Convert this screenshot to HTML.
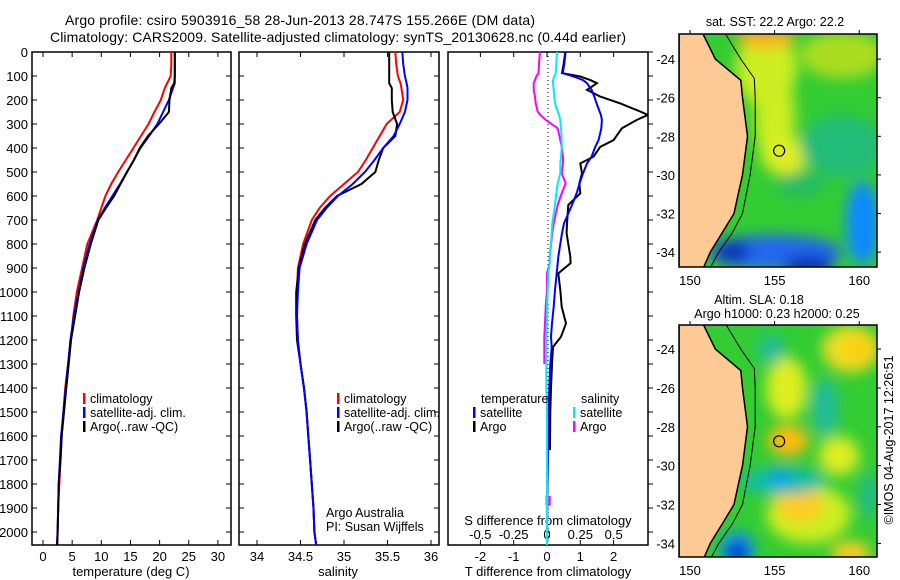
<!DOCTYPE html>
<html><head><meta charset="utf-8">
<style>
html,body{margin:0;padding:0;background:#fff;}
svg{display:block;font-family:"Liberation Sans",sans-serif;}
</style></head>
<body>
<svg id="fig" width="900" height="580" viewBox="0 0 900 580" xmlns="http://www.w3.org/2000/svg">
<defs>
<filter id="blur" x="-50%" y="-50%" width="200%" height="200%"><feGaussianBlur stdDeviation="7"/></filter>
<clipPath id="clipTop"><rect x="679" y="34" width="198" height="233"/></clipPath>
<clipPath id="clipBot"><rect x="679" y="325" width="198" height="232"/></clipPath>
<clipPath id="clipP3"><rect x="448" y="52" width="200" height="493"/></clipPath>
</defs>
<text x="65" y="25" font-size="14" textLength="470">Argo profile: csiro 5903916_58 28-Jun-2013 28.747S 155.266E (DM data)</text>
<text x="50" y="42" font-size="14" textLength="576">Climatology: CARS2009. Satellite-adjusted climatology: synTS_20130628.nc (0.44d earlier)</text>
<g id="root"></g>
</svg>
<script>
// ---- profile data ----
const depths = [0,50,100,130,150,200,250,300,350,400,450,500,550,600,650,700,800,900,1000,1100,1200,1300,1400,1500,1600,1700,1800,1900,2000,2054];
const tempClim = [22.0,22.0,21.9,21.3,20.9,20.2,19.1,18.1,16.8,15.5,14.2,12.9,11.7,10.7,10.0,9.3,7.6,6.7,5.8,5.2,4.8,4.3,3.8,3.5,3.2,3.0,2.8,2.6,2.5,2.4];
const tempSat = [22.6,22.6,22.6,22.6,22.3,21.6,20.6,19.6,18.2,16.7,15.6,14.4,13.2,11.9,10.6,9.4,8.0,6.9,6.1,5.3,4.7,4.3,3.9,3.5,3.1,2.9,2.7,2.6,2.5,2.4];
const tempArgo = [22.6,22.6,22.6,22.5,22.0,21.7,21.6,19.9,18.0,16.6,15.6,14.4,13.3,12.2,10.8,9.5,8.2,7.1,6.2,5.5,4.8,4.4,4.0,3.6,3.2,3.0,2.7,2.6,2.5,2.45];
const salClim = [35.59,35.60,35.62,35.65,35.66,35.68,35.64,35.49,35.41,35.33,35.25,35.16,35.00,34.84,34.72,34.63,34.53,34.47,34.46,34.46,34.47,34.50,34.54,34.57,34.59,34.61,34.63,34.65,34.66,34.68];
const salSat = [35.67,35.68,35.70,35.72,35.73,35.73,35.70,35.64,35.57,35.45,35.35,35.24,35.10,34.93,34.80,34.69,34.57,34.49,34.47,34.46,34.47,34.50,34.54,34.57,34.59,34.61,34.63,34.65,34.66,34.68];
const salArgo = [35.52,35.52,35.52,35.52,35.55,35.55,35.56,35.61,35.59,35.45,35.40,35.36,35.20,34.92,34.78,34.67,34.55,34.48,34.45,34.45,34.46,34.50,34.54,34.57,34.59,34.61,34.63,34.65,34.66,34.68];
// ---- difference data ----
const diffDepths = [0,50,88,102,117,130,158,186,214,248,262,283,318,367,395,436,464,506,547,589,637,714,755,853,880,922,992,1061,1131,1186,1229,1300,1400,1500,1658,1750,1850,1890,2054];
const tDiffSat = [0.56,0.52,0.47,0.8,1.08,1.2,1.34,1.42,1.49,1.58,1.62,1.65,1.63,1.55,1.45,1.34,1.2,1.08,0.98,0.89,0.75,0.51,0.45,0.34,0.32,0.29,0.24,0.2,0.15,0.12,0.14,0.1,0.07,0.05,0.03,0.02,0.01,0.01,0.0];
const tDiffArgo = [0.55,0.5,0.45,1.0,1.3,1.5,1.2,1.6,2.2,2.8,3.03,2.7,2.25,2.0,1.6,1.4,1.0,1.05,0.97,1.0,0.64,0.6,0.59,0.7,0.71,0.34,0.4,0.44,0.57,0.42,0.18,0.15,0.12,0.1,0.09,null,-0.01,-0.01,null];
const sDiffSat = [0.075,0.07,0.065,0.055,0.045,0.045,0.05,0.055,0.06,0.08,0.09,0.1,0.105,0.11,0.11,0.105,0.1,0.1,0.08,0.07,0.06,0.04,0.035,0.02,0.02,0.01,0.005,0,0,-0.005,-0.005,-0.005,-0.005,0,0,0,0,0,0];
const sDiffArgo = [-0.053,-0.06,-0.064,-0.08,-0.09,-0.1,-0.1,-0.09,-0.085,-0.07,-0.05,-0.01,0.08,0.1,0.11,0.12,0.12,0.11,0.14,0.11,0.08,0.05,0.04,0.02,0.02,0,0,-0.01,-0.015,-0.02,-0.02,-0.02,null,null,null,null,0.02,0.02,null];
// ---- ticks ----
const depthTicks = [0,100,200,300,400,500,600,700,800,900,1000,1100,1200,1300,1400,1500,1600,1700,1800,1900,2000];
const tempTicks = [0,5,10,15,20,25,30];
const salTicks = [34,34.5,35,35.5,36];
const tDiffTicks = [-2,-1,0,1,2];
const sDiffTicks = [-0.5,-0.25,0,0.25,0.5];
const sDiffTickLabels = ["-0.5","-0.25","0","0.25","0.5"];
const latTicks = [-24,-26,-28,-30,-32,-34];
const lonTicks = [150,155,160];
const argoLon = 155.266, argoLat = -28.747;
// ---- map data [lon, lat, rxDeg, ryDeg, color] ----
const sstBlobs = [
 [154.5,-24.5,1.8,2.0,'#ccee22'],[155.0,-27.0,1.2,2.5,'#ccee22'],[155.6,-29.0,1.4,1.0,'#ddee22'],
 [159.0,-23.8,2.5,1.2,'#aadd22'],[154.5,-22.9,1.8,0.5,'#ffaa22'],
 [159.0,-28.5,2.5,1.6,'#22bb77'],[156.5,-30.5,1.5,0.6,'#22bb66'],
 [155.0,-34.0,4.0,0.9,'#2266ee'],[160.2,-32.5,1.0,2.2,'#1188ff'],
 [152.5,-34.0,1.0,0.6,'#1133bb'],[157.0,-34.7,1.5,0.4,'#0011aa']];
const slaBlobs = [
 [159.5,-24.0,1.7,1.2,'#eedd22'],[155.7,-26.0,1.2,1.6,'#ddee22'],[158.8,-29.5,1.2,1.0,'#ddee22'],
 [157.0,-32.5,2.5,1.5,'#ccee22'],
 [160.0,-24.0,0.8,0.6,'#ffcc11'],[155.8,-28.7,1.2,0.8,'#ffbb11'],[156.5,-32.0,1.4,0.9,'#ffcc22'],[159.5,-34.5,1.2,0.6,'#ffcc22'],
 [154.8,-24.0,0.8,0.8,'#22bb99'],[158.0,-27.0,0.8,1.5,'#22bb99'],[155.5,-30.8,2.5,0.7,'#11bbaa'],[160.6,-31.5,0.6,1.2,'#22bb88'],
 [155.3,-30.6,0.6,0.4,'#1199ff'],[152.8,-34.3,1.0,0.9,'#1188ff'],[152.8,-34.5,0.5,0.5,'#0011aa']];
const coastLons = [150.77,151.5,153.0,153.1,153.4,153.1,152.85,152.6,151.9,151.2,150.8];
const coastLats = [-22.7,-24,-25.1,-26,-28,-30,-31,-32,-33,-34,-34.8];
const shelfLons = [152.1,153.0,153.8,153.85,153.85,153.55,153.1,152.5,151.7,151.2];
const shelfLats = [-22.7,-24,-25,-26,-28,-30,-32,-33,-34,-34.8];

const NS='http://www.w3.org/2000/svg';
const root=document.getElementById('root');
function mk(tag,attrs,parent){const e=document.createElementNS(NS,tag);for(const k in attrs)e.setAttribute(k,attrs[k]);(parent||root).appendChild(e);return e;}
function txt(s,x,y,opts,parent){const e=mk('text',Object.assign({x:x,y:y,'font-size':12},opts||{}),parent);e.textContent=s;return e;}

const Y0=52,Y1=545,DMAX=2054;
const yD=d=>Y0+(d/DMAX)*(Y1-Y0);
const xT=v=>43+5.83*v;
const xS=v=>257+87*(v-34);
const xTd=v=>547+33.3*v;
const xSd=v=>547+133.3*v;

function line(vals,dep,xf,color,name,clip){
  let segs=[],cur=[];
  for(let i=0;i<vals.length;i++){
    if(vals[i]===null){if(cur.length)segs.push(cur);cur=[];continue;}
    cur.push(xf(vals[i]).toFixed(1)+','+yD(dep[i]).toFixed(1));
  }
  if(cur.length)segs.push(cur);
  const g=mk('g',clip?{'clip-path':clip}:{});
  
  
  segs.forEach(s=>{
    const p=mk('polyline',{points:s.join(' '),fill:'none',stroke:color,'stroke-width':2,'stroke-linejoin':'miter'},g);
    
    
  });
}

function panel(x0,x1,name){
  const r=mk('rect',{x:x0,y:Y0,width:x1-x0,height:Y1-Y0,fill:'#fff',stroke:'#000','stroke-width':1.5});
  
  
}
panel(32,231,'temperature-panel');
panel(239,439,'salinity-panel');
panel(448,648,'difference-panel');

depthTicks.forEach(d=>{
  const t=txt(String(d),28,yD(d)+5,{'text-anchor':'end','font-size':13});
  
  
  [[32,37],[226,231],[239,244],[434,439],[648,653]].forEach(([a,b])=>{
    const l=mk('line',{x1:a,x2:b,y1:yD(d),y2:yD(d),stroke:'#000','stroke-width':1});
    
    
  });
});
function xticks(ticks,labels,xf,ly,name){
  ticks.forEach((v,i)=>{
    const x=xf(v);
    [[Y0,Y0+5],[Y1-5,Y1]].forEach(([a,b])=>{
      const l=mk('line',{x1:x,x2:x,y1:a,y2:b,stroke:'#000','stroke-width':1});
      
      
    });
    if(ly){const t=txt(labels[i],x,ly,{'text-anchor':'middle','font-size':13});
    
    }
  });
}
xticks(tempTicks,tempTicks.map(String),xT,561,'temperature');
xticks(salTicks,salTicks.map(String),xS,561,'salinity');
xticks(tDiffTicks,tDiffTicks.map(String),xTd,561,'t-diff');
sDiffTicks.forEach((v,i)=>{const t=txt(sDiffTickLabels[i],xSd(v),539,{'text-anchor':'middle','font-size':13});
  
  });

let t;
t=txt('temperature (deg C)',131,576,{'text-anchor':'middle','font-size':13});
t=txt('salinity',338,576,{'text-anchor':'middle','font-size':13});
t=txt('T difference from climatology',548,576,{'text-anchor':'middle','font-size':13});
t=txt('S difference from climatology',548,525,{'text-anchor':'middle','font-size':13});

const zl=mk('line',{x1:548,x2:548,y1:Y0,y2:Y1,stroke:'#000','stroke-width':1,'stroke-dasharray':'1,3'});


line(tempClim,depths,xT,'#ff0000','temp-climatology-line');
line(tempSat,depths,xT,'#0000ff','temp-satellite-line');
line(tempArgo,depths,xT,'#000000','temp-argo-line');
line(salClim,depths,xS,'#ff0000','sal-climatology-line');
line(salArgo,depths,xS,'#000000','sal-argo-line');
line(salSat,depths,xS,'#0000ff','sal-satellite-line');
line(tDiffArgo,diffDepths,xTd,'#000000','t-diff-argo-line','url(#clipP3)');
line(tDiffSat,diffDepths,xTd,'#0000ff','t-diff-satellite-line','url(#clipP3)');
line(sDiffArgo,diffDepths,xSd,'#ff00ff','s-diff-argo-line','url(#clipP3)');
line(sDiffSat,diffDepths,xSd,'#00eeee','s-diff-satellite-line','url(#clipP3)');

function legend(x,y,color,label,name){
  const g=mk('g',{});
  
  
  if(color)mk('rect',{x:x,y:y-10,width:2.5,height:11,fill:color},g);
  txt(label,x+(color?7:0),y,{'font-size':12.5},g);
}
legend(83,403,'#ff0000','climatology','legend-temp-climatology');
legend(83,417,'#0000ff','satellite-adj. clim.','legend-temp-satellite');
legend(83,431,'#000000','Argo(..raw -QC)','legend-temp-argo');
legend(337,403,'#ff0000','climatology','legend-sal-climatology');
legend(337,417,'#0000ff','satellite-adj. clim.','legend-sal-satellite');
legend(337,431,'#000000','Argo(..raw -QC)','legend-sal-argo');
legend(481,403,null,'temperature','legend-temperature-heading');
legend(473,417,'#0000ff','satellite','legend-t-satellite');
legend(473,431,'#000000','Argo','legend-t-argo');
legend(581,403,null,'salinity','legend-salinity-heading');
legend(573,417,'#00eeee','satellite','legend-s-satellite');
legend(573,431,'#ff00ff','Argo','legend-s-argo');
t=txt('Argo Australia',326,517,{'font-size':12.5});
t=txt('PI: Susan Wijffels',326,531,{'font-size':12.5});

function drawMap(x0,y0,w,h,latT,latB,name,blobs,clip,titleLines){
  const lonL=149.35,lonR=161.05;
  const mx=lon=>x0+(lon-lonL)/(lonR-lonL)*w;
  const my=lat=>y0+(latT-lat)/(latT-latB)*h;
  const g=mk('g',{'clip-path':clip});
  
  
  mk('rect',{x:x0,y:y0,width:w,height:h,fill:'#33cc33'},g);
  const bg=mk('g',{filter:'url(#blur)'},g);
  blobs.forEach(b=>{
    const e=mk('ellipse',{cx:mx(b[0]),cy:my(b[1]),rx:b[2]*w/(lonR-lonL),ry:b[3]*h/(latT-latB),fill:b[4]},bg);
    
    
  });
  let pts=coastLons.map((l,i)=>mx(l).toFixed(1)+','+my(coastLats[i]).toFixed(1));
  pts.push(x0+','+(y0+h+5));pts.push(x0+','+(y0-5));
  const land=mk('polygon',{points:pts.join(' '),fill:'#fdca96',stroke:'#000','stroke-width':1.5},g);
  
  const sh=mk('polyline',{points:shelfLons.map((l,i)=>mx(l).toFixed(1)+','+my(shelfLats[i]).toFixed(1)).join(' '),fill:'none',stroke:'#000','stroke-width':1},g);
  
  const c=mk('circle',{cx:mx(argoLon),cy:my(argoLat),r:5.5,fill:'none',stroke:'#000','stroke-width':1.2},g);
  
  const fr=mk('rect',{x:x0,y:y0,width:w,height:h,fill:'none',stroke:'#000','stroke-width':1.5});
  
  latTicks.forEach(v=>{
    const tt=txt(String(v),x0-4,my(v)+5,{'text-anchor':'end','font-size':13});
    
    const l=mk('line',{x1:x0+w,x2:x0+w+4,y1:my(v),y2:my(v),stroke:'#000'});
    
  });
  lonTicks.forEach(v=>{
    const tt=txt(String(v),mx(v),y0+h+18,{'text-anchor':'middle','font-size':13});
    
    const l=mk('line',{x1:mx(v),x2:mx(v),y1:y0-4,y2:y0,stroke:'#000'});
    
  });
  titleLines.forEach(tl=>{
    const tt=txt(tl[0],tl[1],tl[2],{'text-anchor':'middle','font-size':12.5});
    
  });
}
drawMap(679,34,198,233,-22.7,-34.77,'sst-map',sstBlobs,'url(#clipTop)',[['sat. SST: 22.2 Argo: 22.2',775,26]]);
drawMap(679,325,198,232,-22.76,-34.7,'sla-map',slaBlobs,'url(#clipBot)',[['Altim. SLA: 0.18',759,304],['Argo h1000: 0.23 h2000: 0.25',777,318]]);

t=txt('\u00a9IMOS 04-Aug-2017 12:26:51',0,0,{'font-size':12.5,'text-anchor':'middle',transform:'translate(893,440) rotate(-90)'});

</script>
</body></html>
